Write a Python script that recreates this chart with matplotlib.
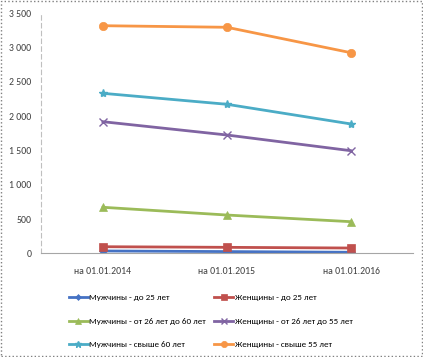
import matplotlib.pyplot as plt
from matplotlib.ticker import FuncFormatter

dates = ['на 01.01.2014', 'на 01.01.2015', 'на 01.01.2016']
men_25 = [34, 25, 15]
women_25 = [96, 87, 77]
men_26_60 = [671, 558, 461]
women_26_55 = [1919, 1725, 1496]
men_60 = [2333, 2173, 1886]
women_55 = [3319, 3296, 2925]

series = [
    ('Мужчины - до 25 лет', men_25, '#4572C4', 'D', 4),
    ('Женщины - до 25 лет', women_25, '#C0504D', 's', 6),
    ('Мужчины - от 26 лет до 60 лет', men_26_60, '#9BBB59', '^', 6),
    ('Женщины - от 26 лет до 55 лет', women_26_55, '#8064A2', 'x', 6),
    ('Мужчины - свыше 60 лет', men_60, '#4BACC6', '*', 6),
    ('Женщины - свыше 55 лет', women_55, '#F79646', 'o', 6),
]

plt.rcParams['font.family'] = ['Carlito', 'Liberation Sans Narrow', 'Liberation Sans', 'DejaVu Sans']

fig = plt.figure(figsize=(4.23, 3.57), dpi=100)
ax = fig.add_axes([41 / 423, 1 - 253.3 / 357, 372 / 423, 240 / 357])

x = list(range(len(dates)))
lines = []
for label, vals, color, marker, ms in series:
    ln, = ax.plot(x, vals, color=color, marker=marker, markersize=ms, linewidth=2,
                  label=label, markeredgewidth=1 if marker in 'x*' else 0.5,
                  markeredgecolor=color)
    lines.append(ln)

ax.set_xlim(-0.5, 2.5)
ax.set_ylim(0, 3500)
ax.set_yticks(range(0, 3501, 500))
ax.yaxis.set_major_formatter(FuncFormatter(lambda v, p: f'{int(v):,}'.replace(',', ' ')))
ax.set_xticks(x)
ax.set_xticklabels(dates)
ax.tick_params(axis='both', length=0, labelsize=7, colors='#404040')
ax.tick_params(axis='x', pad=10)
ax.tick_params(axis='y', pad=7)
for s in ['top', 'right']:
    ax.spines[s].set_visible(False)
ax.spines['left'].set_color('#BFBFBF')
ax.spines['left'].set_linestyle((0, (4, 3)))
ax.spines['bottom'].set_color('#A6A6A6')

# column-wise fill -> reorder so legend reads row by row
order = [0, 2, 4, 1, 3, 5]
fig.legend([lines[i] for i in order], [series[i][0] for i in order],
           loc='upper left', bbox_to_anchor=(69 / 423, 1 - 294 / 357), ncol=2,
           frameon=False, fontsize=6.5, handlelength=2.1, handletextpad=0.15,
           columnspacing=0.9, labelspacing=1.8, borderaxespad=0, borderpad=0,
           markerscale=0.75)

border = plt.Rectangle((0.002, 0.003), 0.995, 0.994, transform=fig.transFigure,
                       fill=False, edgecolor='#808080', linestyle=':', linewidth=1)
fig.patches.append(border)

fig.savefig('out.png', dpi=100)
